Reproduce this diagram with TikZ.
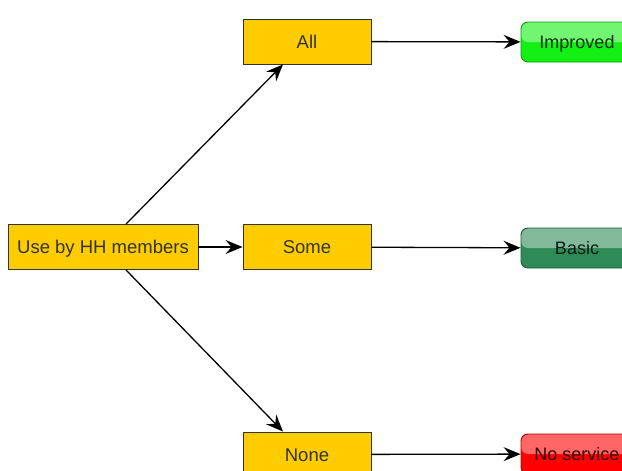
\documentclass[tikz,border=0pt]{standalone}
\usepackage{fontspec}
\setmainfont{Liberation Sans}
\usetikzlibrary{arrows.meta, positioning}
\definecolor{boxyellow}{RGB}{255,204,0}
\definecolor{improvedgreen}{RGB}{20,240,20}
\definecolor{basicgreen}{RGB}{46,139,87}
\definecolor{noservicered}{RGB}{255,0,0}

\tikzset{
  choice/.style={draw=black!80, fill=boxyellow, line width=0.9pt, text=black!80,
    minimum width=128pt, minimum height=45pt, inner sep=0pt,
    text height=13pt, text depth=0pt, font=\fontsize{18.5}{21}\selectfont},
  outcome/.style={draw=#1!65!black, fill=#1, line width=0.9pt, rounded corners=7pt,
    text=#1!20!black, minimum width=112pt, minimum height=40pt, inner sep=0pt,
    text height=13pt, text depth=0pt, font=\fontsize{18}{21}\selectfont,
    path picture={\fill[white, opacity=0.4] (path picture bounding box.north west)
      rectangle (path picture bounding box.east);}},
  link/.style={-{Stealth[length=17pt, width=14pt, inset=6pt]}, line width=1.3pt, black}
}

\begin{document}
\begin{tikzpicture}[x=1pt, y=-1pt]
  \useasboundingbox (0,0) rectangle (622,471);

  % Usage node
  \node[choice, minimum width=190pt] (hh) at (103,247) {Use by HH members};

  % Usage levels
  \node[choice] (all) at (307,41.5) {All};
  \node[choice] (some) at (307,247) {Some};
  \node[choice] (none) at (307,454.5) {None};

  % Service outcomes
  \node[outcome=improvedgreen] (improved) at (577,42) {Improved};
  \node[outcome=basicgreen] (basic) at (577,248) {Basic};
  \node[outcome=noservicered] (noservice) at (577,454) {No service};

  % Arrows
  \draw[link] ([xshift=23pt]hh.north) -- ([xshift=-24pt]all.south);
  \draw[link] (hh) -- (some);
  \draw[link] ([xshift=23pt]hh.south) -- ([xshift=-24pt]none.north);
  \draw[link] (all) -- (improved);
  \draw[link] (some) -- (basic);
  \draw[link] (none) -- (noservice);
\end{tikzpicture}
\end{document}
